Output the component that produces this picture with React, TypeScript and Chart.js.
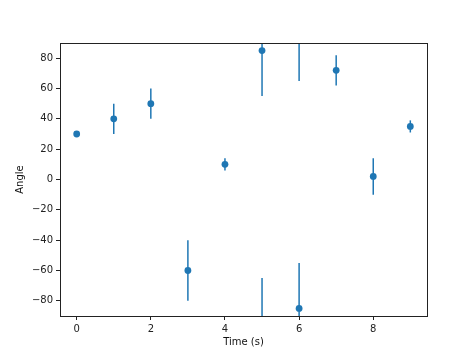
import React, { useEffect, useRef } from "react";
import { Chart, registerables } from "chart.js";

Chart.register(...registerables);

const times = [0, 1, 2, 3, 4, 5, 6, 7, 8, 9];
const angles = [30, 40, 50, -60, 10, 85, -85, 72, 2, 35];
const errors = [0, 10, 10, 20, 4, 30, 30, 10, 12, 4];
const xTicks = [0, 2, 4, 6, 8];
const yTicks = [-80, -60, -40, -20, 0, 20, 40, 60, 80];

const BLUE = "#1f77b4";
const FONT = "'DejaVu Sans', sans-serif";

function segmentsFor(y: number, e: number): Array<[number, number]> {
  const lo = y - e;
  const hi = y + e;
  if (hi > 90) return [[lo, 90], [-90, hi - 180]];
  if (lo < -90) return [[-90, hi], [lo + 180, 90]];
  return [[lo, hi]];
}

const errorBarPlugin = {
  id: "errorBars",
  beforeDatasetsDraw(chart: any) {
    const { ctx, scales } = chart;
    const xs = scales.x;
    const ys = scales.y;
    ctx.save();
    ctx.strokeStyle = BLUE;
    ctx.lineWidth = 1.5;
    times.forEach((t, i) => {
      const px = xs.getPixelForValue(t);
      segmentsFor(angles[i], errors[i]).forEach(([a, b]) => {
        ctx.beginPath();
        ctx.moveTo(px, ys.getPixelForValue(a));
        ctx.lineTo(px, ys.getPixelForValue(b));
        ctx.stroke();
      });
    });
    ctx.restore();
  },
  afterDraw(chart: any) {
    const { ctx, chartArea } = chart;
    ctx.save();
    ctx.strokeStyle = "#222";
    ctx.lineWidth = 1;
    ctx.strokeRect(
      Math.round(chartArea.left) + 0.5,
      Math.round(chartArea.top) + 0.5,
      Math.round(chartArea.right - chartArea.left),
      Math.round(chartArea.bottom - chartArea.top)
    );
    ctx.restore();
  },
};

export default function App() {
  const ref = useRef<HTMLCanvasElement>(null);
  useEffect(() => {
    document.body.style.margin = "0";
    const chart = new Chart(ref.current!, {
      type: "scatter",
      data: {
        datasets: [
          {
            data: times.map((t, i) => ({ x: t, y: angles[i] })),
            backgroundColor: BLUE,
            borderColor: BLUE,
            pointRadius: 3.4,
            pointBorderWidth: 0,
          },
        ],
      },
      options: {
        responsive: false,
        animation: false,
        layout: { padding: { top: 43, right: 47, left: 0, bottom: 0 } },
        plugins: { legend: { display: false }, tooltip: { enabled: false } },
        scales: {
          x: {
            type: "linear",
            min: -0.45,
            max: 9.45,
            afterBuildTicks: (s: any) => {
              s.ticks = xTicks.map((v) => ({ value: v }));
            },
            afterFit: (s: any) => {
              s.height = 39;
            },
            grid: {
              drawOnChartArea: false,
              drawTicks: true,
              tickLength: 4,
              tickColor: "#222",
            },
            border: { display: false },
            ticks: {
              color: "#222",
              font: { family: FONT, size: 10 },
              padding: 3,
              maxRotation: 0,
            },
            title: {
              display: true,
              text: "Time (s)",
              color: "#111",
              font: { family: FONT, size: 10 },
              padding: { top: 2, bottom: 7 },
            },
          },
          y: {
            type: "linear",
            min: -90,
            max: 90,
            afterBuildTicks: (s: any) => {
              s.ticks = yTicks.map((v) => ({ value: v }));
            },
            afterFit: (s: any) => {
              s.width = 60;
            },
            grid: {
              drawOnChartArea: false,
              drawTicks: true,
              tickLength: 4,
              tickColor: "#222",
            },
            border: { display: false },
            ticks: {
              color: "#222",
              font: { family: FONT, size: 10 },
              padding: 3,
              callback: (v: any) => (Number(v) < 0 ? "\u2212" + Math.abs(Number(v)) : String(v)),
            },
            title: {
              display: true,
              text: "Angle",
              color: "#111",
              font: { family: FONT, size: 10 },
              padding: { top: 14, bottom: 4 },
            },
          },
        },
      },
      plugins: [errorBarPlugin],
    });
    return () => chart.destroy();
  }, []);
  return <canvas ref={ref} width={474} height={355} style={{ display: "block" }} />;
}
